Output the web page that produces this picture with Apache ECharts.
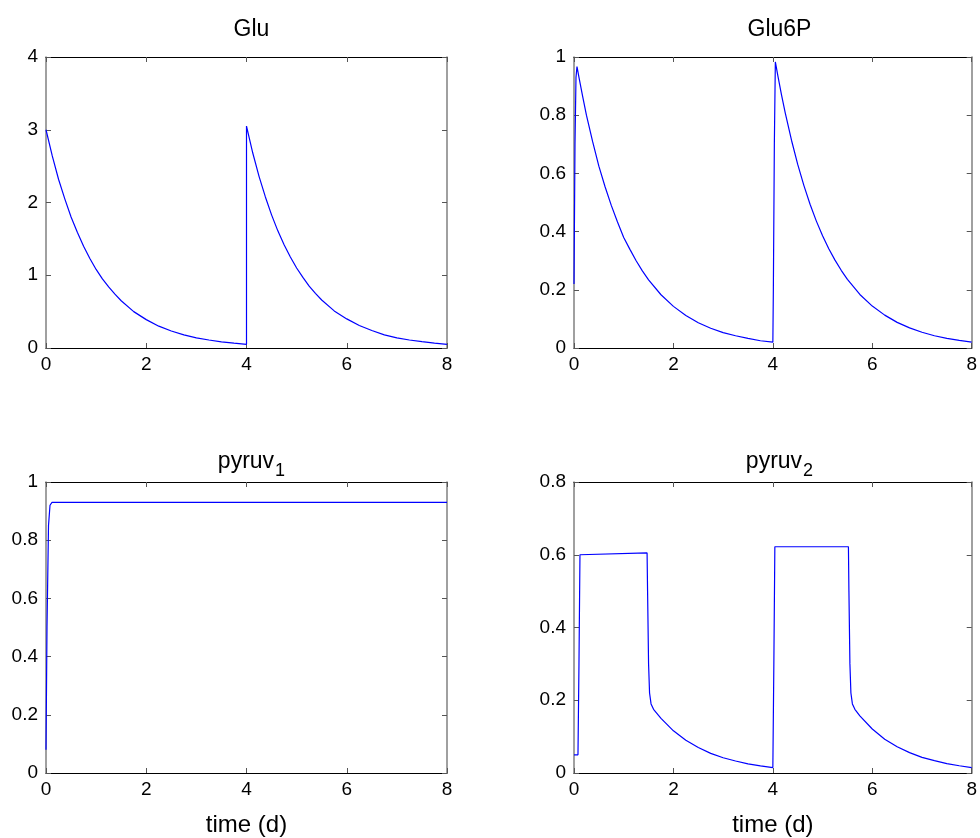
<!DOCTYPE html>
<html><head><meta charset="utf-8">
<script src="https://cdn.jsdelivr.net/npm/echarts@6/dist/echarts.min.js"></script>
<style>html,body{margin:0;padding:0;background:#fff}#c{width:980px;height:838px}</style>
</head><body><div id="c"></div>
<script>
const titles = ['Glu', 'Glu6P', 'pyruv|1', 'pyruv|2'];
const xTicks = [0, 2, 4, 6, 8];
const yMax = [4, 1, 1, 0.8];
const yStep = [1, 0.2, 0.2, 0.2];
const xLabel = 'time (d)';

const gluData = [
  [0,3.00],[0.125,2.64],[0.25,2.32],[0.375,2.05],[0.5,1.80],[0.625,1.59],[0.75,1.40],[0.875,1.23],
  [1,1.08],[1.125,0.95],[1.25,0.84],[1.375,0.74],[1.5,0.65],[1.75,0.50],
  [2,0.39],[2.25,0.30],[2.5,0.234],[2.75,0.18],[3,0.14],[3.25,0.11],[3.5,0.085],[3.75,0.066],[4,0.05],
  [4,3.05],[4.125,2.68],[4.25,2.36],[4.375,2.08],[4.5,1.83],[4.625,1.61],[4.75,1.42],[4.875,1.25],
  [5,1.10],[5.125,0.97],[5.25,0.85],[5.375,0.75],[5.5,0.66],[5.75,0.51],
  [6,0.40],[6.25,0.31],[6.5,0.24],[6.75,0.18],[7,0.14],[7.25,0.11],[7.5,0.087],[7.75,0.067],[8,0.05]
];
const glu6pData = [
  [0,0.22],[0.02,0.70],[0.04,0.93],[0.06,0.967],[0.1,0.93],[0.175,0.864],[0.25,0.80],[0.375,0.709],
  [0.5,0.625],[0.625,0.554],[0.75,0.49],[0.875,0.433],[1,0.38],[1.125,0.339],[1.25,0.30],[1.375,0.265],
  [1.5,0.234],[1.75,0.183],[2,0.143],[2.25,0.112],[2.5,0.087],[2.75,0.068],
  [3,0.053],[3.25,0.042],[3.5,0.033],[3.75,0.025],[4,0.02],
  [4.01,0.2],[4.03,0.7],[4.05,0.983],[4.1,0.936],[4.175,0.869],[4.25,0.807],[4.375,0.714],[4.5,0.631],
  [4.625,0.558],[4.75,0.493],[4.875,0.436],[5,0.386],[5.125,0.341],[5.25,0.302],[5.375,0.267],
  [5.5,0.236],[5.75,0.184],[6,0.144],[6.25,0.113],[6.5,0.088],[6.75,0.069],
  [7,0.054],[7.25,0.042],[7.5,0.033],[7.75,0.026],[8,0.02]
];
const pyruv1Data = [
  [0,0.08],[0.02,0.5],[0.05,0.85],[0.08,0.92],[0.12,0.93],[8,0.93]
];
const pyruv2Data = [
  [0,0.05],[0.08,0.05],[0.1,0.3],[0.12,0.6],[0.14,0.605],[1.47,0.605],[1.48,0.5],[1.5,0.3],
  [1.52,0.22],[1.55,0.19],[1.6,0.175],[1.75,0.150],[2,0.116],[2.25,0.090],[2.5,0.070],[2.75,0.054],
  [3,0.042],[3.25,0.033],[3.5,0.025],[3.75,0.0195],[4,0.015],
  [4.02,0.3],[4.04,0.622],[5.52,0.622],[5.53,0.5],[5.55,0.3],[5.57,0.22],[5.6,0.19],
  [5.65,0.175],[5.75,0.157],[6,0.121],[6.25,0.093],[6.5,0.072],[6.75,0.056],[7,0.043],
  [7.25,0.034],[7.5,0.026],[7.75,0.02],[8,0.015]
];
const allData = [gluData, glu6pData, pyruv1Data, pyruv2Data];

const grids = [
  {left:46, top:57, width:401, height:291},
  {left:574, top:57, width:401, height:291},
  {left:46, top:482, width:401, height:291},
  {left:574, top:482, width:401, height:291}
];
const font = '"Liberation Sans", Arial, sans-serif';
const xAxes = [], yAxes = [], series = [], titleArr = [];
grids.forEach((g, i) => {
  const bottomRow = i >= 2;
  xAxes.push({
    type:'value', gridIndex:i, min:0, max:8, interval:2, position:'bottom',
    axisLine:{show:true, onZero:false, lineStyle:{color:'#000', width:1}},
    axisTick:{show:true, inside:true, length:5, lineStyle:{color:'#555'}},
    axisLabel:{show:true, color:'#000', fontSize:19, fontFamily:font, margin:7},
    splitLine:{show:false},
    name: bottomRow ? xLabel : '', nameLocation:'middle', nameGap:40,
    nameTextStyle:{fontSize:24, color:'#000', fontFamily:font}
  });
  xAxes.push({
    type:'value', gridIndex:i, min:0, max:8, interval:2, position:'top',
    axisLine:{show:true, onZero:false, lineStyle:{color:'#000', width:1}},
    axisTick:{show:true, inside:true, length:5, lineStyle:{color:'#555'}},
    axisLabel:{show:false}, splitLine:{show:false}
  });
  yAxes.push({
    type:'value', gridIndex:i, min:0, max:yMax[i], interval:yStep[i], position:'left',
    axisLine:{show:true, onZero:false, lineStyle:{color:'#808080', width:1.5}},
    axisTick:{show:true, inside:true, length:5, lineStyle:{color:'#555'}},
    axisLabel:{show:true, color:'#000', fontSize:19, fontFamily:font, margin:8,
      formatter: v => String(+v.toFixed(1))},
    splitLine:{show:false}
  });
  yAxes.push({
    type:'value', gridIndex:i, min:0, max:yMax[i], interval:yStep[i], position:'right',
    axisLine:{show:true, onZero:false, lineStyle:{color:'#808080', width:1.5}},
    axisTick:{show:true, inside:true, length:5, lineStyle:{color:'#555'}},
    axisLabel:{show:false}, splitLine:{show:false}
  });
  series.push({
    type:'line', xAxisIndex:2*i, yAxisIndex:2*i, data:allData[i],
    showSymbol:false, symbol:'none', lineStyle:{color:'#0000ff', width:1.2},
    animation:false
  });
  const parts = titles[i].split('|');
  const text = parts.length > 1 ? '{a|' + parts[0] + '}{b|' + parts[1] + '}' : '{a|' + parts[0] + '}';
  titleArr.push({
    text: text, left: g.left + g.width/2, top: g.top - 44, textAlign:'center',
    textStyle:{ fontWeight:'normal', rich:{
      a:{fontSize:23, fontWeight:'normal', color:'#000', fontFamily:font},
      b:{fontSize:18, fontWeight:'normal', color:'#000', fontFamily:font, padding:[19,0,0,1]}
    }}
  });
});

const chart = echarts.init(document.getElementById('c'), null, {renderer:'canvas'});
chart.setOption({
  animation:false,
  backgroundColor:'#fff',
  title: titleArr,
  grid: grids,
  xAxis: xAxes,
  yAxis: yAxes,
  series: series
});
</script></body></html>
